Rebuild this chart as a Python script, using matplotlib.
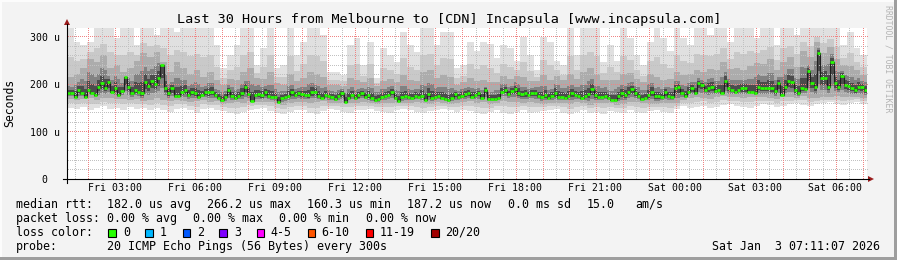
import numpy as np
import matplotlib
matplotlib.use("Agg")
import matplotlib.pyplot as plt
from matplotlib.lines import Line2D
from matplotlib.patches import Rectangle, Polygon

# ---------------- data ----------------
title = "Last 30 Hours from Melbourne to [CDN] Incapsula [www.incapsula.com]"
start_clock = 1 + 11 / 60 + 7 / 3600          # Fri 01:11:07 (hours since Fri 00:00)
span_hours = 30
median_step = 0.125                             # hours (7.5 min)
smoke_step = 0.25                               # hours (15 min)

# median rtt in microseconds
median_us = [
    182, 181, 174, 188, 181, 174, 188, 181, 177.5, 195, 202, 193, 204, 184.5, 193, 177.5, 186, 215, 195, 181,
    188, 184.5, 181, 204, 196, 207, 200, 213, 240, 192, 181, 192, 176, 176, 184.5, 188, 177.5, 184.5, 181, 174,
    177.5, 183, 183, 184.5, 177.5, 172, 167, 174, 188, 176, 172, 176, 181, 195, 179, 165, 177.5, 179, 177.5, 184.5,
    176, 174, 174, 162, 170.4, 174, 176, 183, 177.5, 181, 179, 177.5, 177.5, 184.5, 184.5, 176, 172, 177.5, 176, 174,
    169, 176, 181, 163.4, 170.4, 177.5, 172, 177.5, 181, 174, 177.5, 172, 167, 169, 174, 176, 177.5, 184.5, 172, 165,
    174, 176, 174, 172, 176, 174, 176, 167, 179, 172, 174, 176, 172, 169, 167, 172, 179, 174, 176, 179,
    181, 174, 177.5, 181, 170.4, 188, 169, 169, 169, 172, 184.5, 188, 179, 186, 190, 181, 179, 181, 177.5, 182.4,
    181, 176, 174, 177.5, 172, 176, 181, 174, 174, 172, 176, 181, 177.5, 176, 172, 176, 179, 189.5, 177.5, 174,
    174, 176, 172, 167, 167, 176, 181, 177.5, 184.5, 190, 182.4, 176, 169, 172, 177.5, 184.5, 175.5, 176, 174, 184.5,
    176, 174, 193, 195, 181, 176, 184.5, 192, 181, 202, 198.6, 188, 193, 195, 186, 188, 181, 207, 192, 188,
    184.5, 188, 192, 192, 184.5, 184.5, 181, 195, 193, 192, 193, 192, 186, 203, 177.5, 195, 207, 204, 188, 181,
    192, 190, 229, 202, 195, 266, 212.7, 214, 195, 248, 202, 195, 218, 198.6, 197, 192, 187, 195, 195, 187.2,
]

# smoke (spread of the 20 pings), microseconds, 15-minute resolution
smoke_max = [
    320, 290, 283, 290, 320, 320, 320, 297, 320, 320, 283, 320, 320, 304, 320, 320, 311, 320, 320, 320,
    320, 320, 283, 234, 262, 283, 320, 320, 240, 276, 320, 234, 241, 320, 262, 290, 320, 320, 304, 227,
    227, 220, 283, 297, 241, 290, 213, 276, 262, 248, 311, 283, 269, 320, 320, 283, 311, 311, 234, 241,
    290, 270, 290, 285, 255, 283, 276, 250, 300, 262, 230, 300, 290, 250, 240, 320, 262, 320, 320, 320,
    248, 283, 250, 320, 297, 262, 240, 290, 320, 297, 270, 320, 297, 283, 320, 320, 304, 320, 320, 290,
    320, 320, 320, 297, 320, 320, 283, 320, 320, 304, 320, 320, 320, 320, 320, 320, 283, 311, 276, 262,
]
smoke_hi = [
    205, 215, 230, 250, 240, 255, 225, 235, 215, 225, 245, 260, 250, 265, 240, 215, 240, 225, 210, 220,
    205, 215, 200, 195, 205, 200, 215, 225, 210, 205, 215, 200, 195, 210, 200, 205, 215, 210, 205, 195,
    195, 195, 205, 200, 200, 205, 195, 200, 205, 200, 210, 200, 200, 215, 220, 205, 210, 205, 195, 200,
    205, 200, 200, 195, 200, 210, 205, 215, 205, 200, 205, 210, 200, 215, 205, 210, 205, 215, 225, 210,
    205, 200, 205, 210, 215, 205, 200, 215, 205, 200, 205, 215, 210, 215, 220, 215, 225, 220, 240, 225,
    225, 220, 230, 240, 235, 245, 225, 240, 250, 230, 265, 250, 285, 260, 275, 245, 235, 230, 225, 215,
]
smoke_lo = [
    172, 170, 172, 175, 170, 174, 176, 172, 174, 170, 172, 168, 170, 174, 172, 168, 170, 168, 166, 168,
    170, 166, 168, 162, 164, 166, 165, 168, 166, 164, 165, 162, 160, 164, 166, 165, 164, 166, 168, 164,
    162, 163, 165, 164, 166, 162, 160, 163, 165, 164, 162, 164, 166, 163, 162, 165, 164, 162, 163, 165,
    168, 165, 166, 162, 164, 170, 168, 166, 164, 166, 165, 162, 164, 163, 165, 162, 166, 164, 160, 163,
    165, 164, 160, 162, 165, 166, 164, 162, 160, 163, 164, 162, 170, 174, 176, 175, 172, 176, 178, 175,
    176, 174, 178, 176, 175, 174, 172, 176, 175, 174, 178, 175, 174, 176, 175, 178, 176, 175, 176, 174,
]
smoke_min = [
    150, 148, 152, 145, 150, 155, 148, 150, 145, 152, 148, 150, 146, 150, 145, 142, 148, 150, 145, 140,
    148, 150, 146, 144, 140, 138, 142, 146, 148, 150, 144, 140, 138, 142, 145, 146, 140, 138, 144, 148,
    146, 142, 140, 145, 146, 148, 144, 142, 140, 146, 148, 145, 142, 140, 144, 146, 148, 145, 142, 146,
    144, 140, 138, 142, 146, 140, 138, 142, 145, 140, 142, 144, 146, 148, 140, 138, 142, 145, 140, 142,
    138, 144, 142, 140, 145, 142, 140, 144, 146, 142, 140, 148, 154, 150, 152, 155, 150, 152, 156, 158,
    154, 152, 150, 155, 158, 156, 152, 154, 158, 160, 156, 154, 158, 160, 162, 158, 156, 160, 162, 158,
]

xtick_clock = [3, 6, 9, 12, 15, 18, 21, 24, 27, 30]
xtick_labels = ["Fri 03:00", "Fri 06:00", "Fri 09:00", "Fri 12:00", "Fri 15:00",
                "Fri 18:00", "Fri 21:00", "Sat 00:00", "Sat 03:00", "Sat 06:00"]
ytick_values = [0, 100, 200, 300]
ytick_labels = ["0  ", "100 u", "200 u", "300 u"]

legend_rtt = ["182.0 us avg", "266.2 us max", "160.3 us min", "187.2 us now", "0.0 ms sd", "15.0", "am/s"]
legend_loss = ["0.00 % avg", "0.00 % max", "0.00 % min", "0.00 % now"]
loss_labels = ["0", "1", "2", "3", "4-5", "6-10", "11-19", "20/20"]
loss_colors = ["#26ff00", "#00b8ff", "#0059ff", "#7e00ff", "#ff00ff", "#ff5500", "#ff0000", "#a10000"]
probe_text = "20 ICMP Echo Pings (56 Bytes) every 300s"
timestamp = "Sat Jan  3 07:11:07 2026"

# ---------------- figure ----------------
W, H = 897, 260
MONO = "DejaVu Sans Mono"
fig = plt.figure(figsize=(W / 100, H / 100), dpi=100)
fig.patch.set_facecolor("#f3f3f3")


def fx(px):
    return px / W


def fy(py):
    return 1 - py / H


X0, X1, YT, YB = 67, 867, 28, 179
YMAX = 319
ax = fig.add_axes([fx(X0), fy(YB), (X1 - X0) / W, (YB - YT) / H])
ax.set_facecolor("white")
for s in ax.spines.values():
    s.set_visible(False)

med = np.asarray(median_us, float)
t_med = np.arange(len(med) + 1) * median_step
rep = int(round(smoke_step / median_step))
smax = np.repeat(np.asarray(smoke_max, float), rep)
shi = np.maximum(np.repeat(np.asarray(smoke_hi, float), rep), med)
slo = np.minimum(np.repeat(np.asarray(smoke_lo, float), rep), med)
smin = np.minimum(np.repeat(np.asarray(smoke_min, float), rep), slo)


def ext(a):
    return np.append(a, a[-1])


def band(lo, hi, color):
    ax.fill_between(t_med, ext(lo), ext(hi), step="post", color=color, lw=0, zorder=1,
                    antialiased=False)


# smoke: lighter outside, darker toward the median
band(smin, smax, "#e0e0e0")
band(slo - 0.55 * (slo - smin), shi + 0.45 * (smax - shi), "#c9c9c9")
band(slo - 0.15 * (slo - smin), shi + 0.1 * (smax - shi), "#acacac")
band(med - 0.7 * (med - slo), med + 0.6 * (shi - med), "#828282")
band(med - 0.4 * (med - slo), med + 0.3 * (shi - med), "#4c4c4c")

# grid: pixel-exact dotted lines rendered as an overlay image
gw, gh = X1 - X0, YB - YT
grid = np.zeros((gh, gw, 4))
minor_c = (0.76, 0.76, 0.76, 1.0)
major_c = (0.94, 0.52, 0.52, 1.0)


def col_of(h):
    return int(np.floor(h / span_hours * gw))


def row_of(v):
    return int(np.floor(gh - v / YMAX * gh))


for v in range(20, 320, 20):
    r = row_of(v)
    if 0 <= r < gh:
        grid[r, 1::2] = major_c if v % 100 == 0 else minor_c
for c in np.arange(1.5, 31.5, 0.5):
    p = c - start_clock
    if 0 < p < span_hours:
        k = col_of(p)
        if 0 <= k < gw:
            grid[0::2, k] = major_c if float(c).is_integer() else minor_c
ax.imshow(grid, extent=(0, span_hours, 0, YMAX), aspect="auto", interpolation="nearest",
          zorder=2, origin="upper")
ax.set_xlim(0, span_hours)
ax.set_ylim(0, YMAX)

# median: dark step line with green loss-colour marks
ax.step(t_med, ext(med), where="post", color="#202020", lw=0.8, zorder=3)
ax.hlines(med, t_med[:-1], t_med[1:], color=loss_colors[0], lw=1.9, zorder=4)

# ticks
ax.set_xticks([c - start_clock for c in xtick_clock])
ax.set_xticklabels(xtick_labels, family=MONO, fontsize=7.1)
ax.set_yticks(ytick_values)
ax.set_yticklabels(ytick_labels, family=MONO, fontsize=7.1)
ax.tick_params(axis="x", length=0, pad=3.2)
ax.tick_params(axis="y", length=0, pad=5.4)

# axes lines and arrows
fig.add_artist(Line2D([fx(63), fx(869)], [fy(179), fy(179)], color="black", lw=0.8))
fig.add_artist(Line2D([fx(67), fx(67)], [fy(182.5), fy(24)], color="black", lw=0.8))
arrow_c = "#9b1c1c"
fig.add_artist(Polygon([[fx(868), fy(176)], [fx(868), fy(182)], [fx(874), fy(179)]],
                       closed=True, color=arrow_c, lw=0))
fig.add_artist(Polygon([[fx(64), fy(25)], [fx(70), fy(25)], [fx(67), fy(19)]],
                       closed=True, color=arrow_c, lw=0))

# titles
fig.text(fx(449.5), fy(19.3), title, family=MONO, fontsize=9.7, ha="center", va="center")
fig.text(fx(10), fy(103), "Seconds", family=MONO, fontsize=8.3, rotation=90, ha="center", va="center")
fig.text(fx(887.5), fy(59), "RRDTOOL / TOBI OETIKER", family=MONO, fontsize=5.9,
         rotation=270, ha="center", va="center", color="#b4b4b4")

# legend
LF = 8.35
row_y = [204.3, 218.3, 232.3, 246.2]


def lt(x, row, s, **kw):
    fig.text(fx(x), fy(row_y[row]), s, family=MONO, fontsize=LF, ha=kw.pop("ha", "left"),
             va="center", **kw)


lt(16, 0, "median rtt:")
for x, s in zip([107.3, 207.3, 307.0, 407.3, 507.7, 586.7, 635.0], legend_rtt):
    lt(x, 0, s)
lt(16, 1, "packet loss:")
for x, s in zip([107.3, 193.3, 279.3, 365.7], legend_loss):
    lt(x, 1, s)
lt(16, 2, "loss color:")
box_x = [108.3, 145.0, 182.7, 219.3, 256.7, 307.7, 365.7, 431.0]
lab_x = [123.3, 160.0, 197.3, 234.3, 270.7, 321.7, 380.0, 445.0]
for bx, lx, s, c in zip(box_x, lab_x, loss_labels, loss_colors):
    fig.add_artist(Rectangle((fx(bx), fy(236.5)), 7.5 / W, 8 / H, facecolor=c,
                             edgecolor="black", lw=0.8))
    lt(lx, 2, s)
lt(16, 3, "probe:")
lt(107.3, 3, probe_text)
lt(880, 3, timestamp, ha="right")

# 3D frame
fig.add_artist(Rectangle((0, 0), fx(2), 1, facecolor="#fcfcfc", lw=0))
fig.add_artist(Rectangle((0, fy(2)), 1, 2 / H, facecolor="#fcfcfc", lw=0))
fig.add_artist(Rectangle((fx(894.3), 0), 3 / W, 1, facecolor="#9e9e9e", lw=0))
fig.add_artist(Rectangle((0, 0), 1, 2.7 / H, facecolor="#9e9e9e", lw=0))

fig.savefig("out.png", dpi=100, facecolor=fig.get_facecolor())
